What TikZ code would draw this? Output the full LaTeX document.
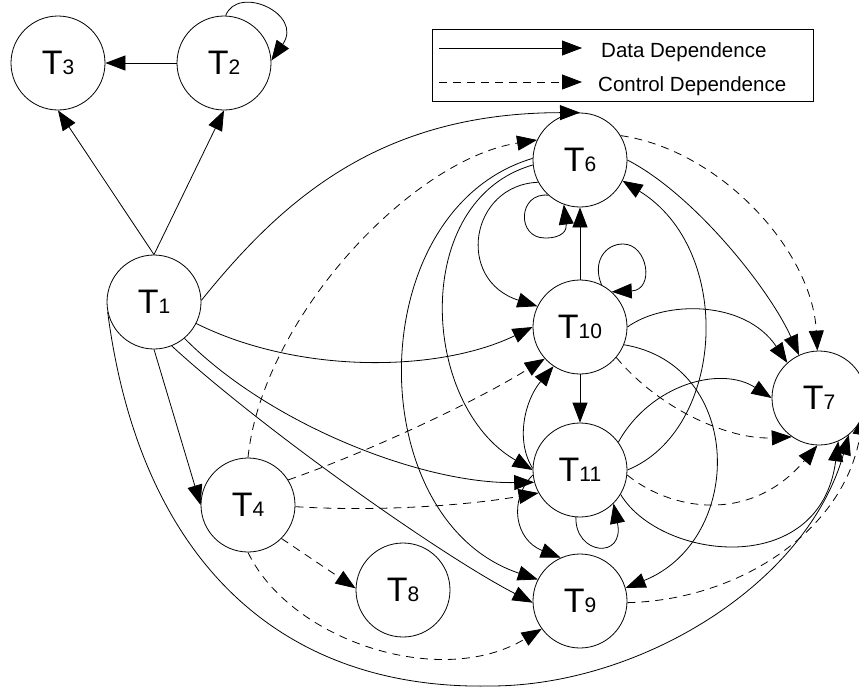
\documentclass[tikz,border=0pt]{standalone}
\usepackage{fontspec}
\setmainfont{Liberation Sans}
\usetikzlibrary{arrows.meta}
\newcommand\tasklabel[2]{{\fontsize{34}{34}\selectfont #1}{\fontsize{21}{21}\selectfont #2}}

\begin{document}
\begin{tikzpicture}[x=1pt,y=-1pt,
  task/.style={circle,draw,line width=0.8pt,minimum size=94pt,inner sep=0pt},
  data/.style={line width=0.8pt,-{Triangle[length=20pt,width=15pt]}},
  ctrl/.style={data,dash pattern=on 8pt off 6pt},
  legtext/.style={anchor=base west,inner sep=0pt,font=\fontsize{20.5}{24}\selectfont}]
\useasboundingbox (0,0) rectangle (859,686);

% tasks
\node[task] (T1)  at (154,302) {\tasklabel{T}{1}};
\node[task] (T2)  at (224,63)  {\tasklabel{T}{2}};
\node[task] (T3)  at (58,63)   {\tasklabel{T}{3}};
\node[task] (T4)  at (248,505) {\tasklabel{T}{4}};
\node[task] (T6)  at (580,160) {\tasklabel{T}{6}};
\node[task] (T7)  at (819,398) {\tasklabel{T}{7}};
\node[task] (T8)  at (403,590) {\tasklabel{T}{8}};
\node[task] (T9)  at (580,601) {\tasklabel{T}{9}};
\node[task] (T10) at (580,327) {\tasklabel{T}{10}};
\node[task] (T11) at (580,470) {\tasklabel{T}{11}};

% legend
\node[draw,line width=0.8pt,minimum width=381pt,minimum height=72pt,inner sep=0pt] (legend) at (622.5,65) {};
\coordinate (ds) at (439,48);
\coordinate (de) at (582,48);
\coordinate (cs) at (439,82);
\coordinate (ce) at (582,82);
\draw[data] (ds) -- (de);
\draw[ctrl] (cs) -- (ce);
\node[legtext] (dl) at (601,57) {Data Dependence};
\node[legtext] (cl) at (598,91) {Control Dependence};

% data dependences
\draw[data] (T2) -- (T3);
\draw[data] (T2.88) .. controls (238,-16) and (304,14) .. (T2.3);
\draw[data] (T1.north) -- (T3.south);
\draw[data] (T1.north) -- (T2.south);
\draw[data] (T1.south) -- (T4.west);
\draw[data] (T1.2) .. controls (283,199) and (380,113) .. (T6.north);
\draw[data] (T1.333) .. controls (300,375) and (440,372) .. (T10.180);
\draw[data] (T1.310) .. controls (270,425) and (423,484) .. (T11.195);
\draw[data] (T1.292) .. controls (260,427) and (440,555) .. (T9.182);
\draw[data] (T1.192) .. controls (140,560) and (280,690) .. (490,686)
                     .. controls (640,686) and (807,584) .. (T7.-51);

\draw[data] (T10) -- (T6);
\draw[data] (T10) -- (T11);
\draw[data] (T6.228) .. controls (518,192) and (516,238) .. (545,238)
                     .. controls (563,238) and (567,230) .. (T6.250);
\draw[data] (T10.63) .. controls (592,262) and (605,244) .. (623,244)
                     .. controls (648,244) and (655,290) .. (T10.48);
\draw[data] (T11.265) .. controls (575,555) and (625,560) .. (T11.-45);

\draw[data] (T6.208) .. controls (470,185) and (455,280) .. (T10.154);
\draw[data] (T6.186) .. controls (410,200) and (420,405) .. (T11.180);
\draw[data] (T6.178) .. controls (360,210) and (360,520) .. (T9.153);
\draw[data] (T6.0) .. controls (695,195) and (770,290) .. (T7.115);

\draw[data] (T10.0) .. controls (665,300) and (745,300) .. (T7.132);
\draw[data] (T10.-22) .. controls (745,365) and (745,540) .. (T9.16);

\draw[data] (T11.178) .. controls (515,440) and (525,400) .. (T10.236);
\draw[data] (T11.186) .. controls (508,500) and (515,540) .. (T9.114);
\draw[data] (T11.0) .. controls (725,430) and (735,250) .. (T6.-26);
\draw[data] (T11.36) .. controls (650,385) and (720,365) .. (T7.180);
\draw[data] (T11.-31) .. controls (660,560) and (820,580) .. (T7.-66);

% control dependences
\draw[ctrl] (T4.90) .. controls (262,320) and (410,160) .. (T6.155);
\draw[ctrl] (T4.32) .. controls (360,455) and (470,405) .. (T10.222);
\draw[ctrl] (T4.-2) .. controls (380,512) and (470,505) .. (T11.209);
\draw[ctrl] (T4.-45) -- (T8.178);
\draw[ctrl] (T4.-90) .. controls (290,640) and (440,690) .. (T9.216);
\draw[ctrl] (T6.31) .. controls (720,150) and (812,250) .. (T7.92);
\draw[ctrl] (T10.-40) .. controls (660,410) and (730,440) .. (T7.235);
\draw[ctrl] (T11.-6) .. controls (670,510) and (750,525) .. (T7.268);
\draw[ctrl] (T9.-2) .. controls (740,600) and (845,530) .. (T7.-21);
\end{tikzpicture}
\end{document}
